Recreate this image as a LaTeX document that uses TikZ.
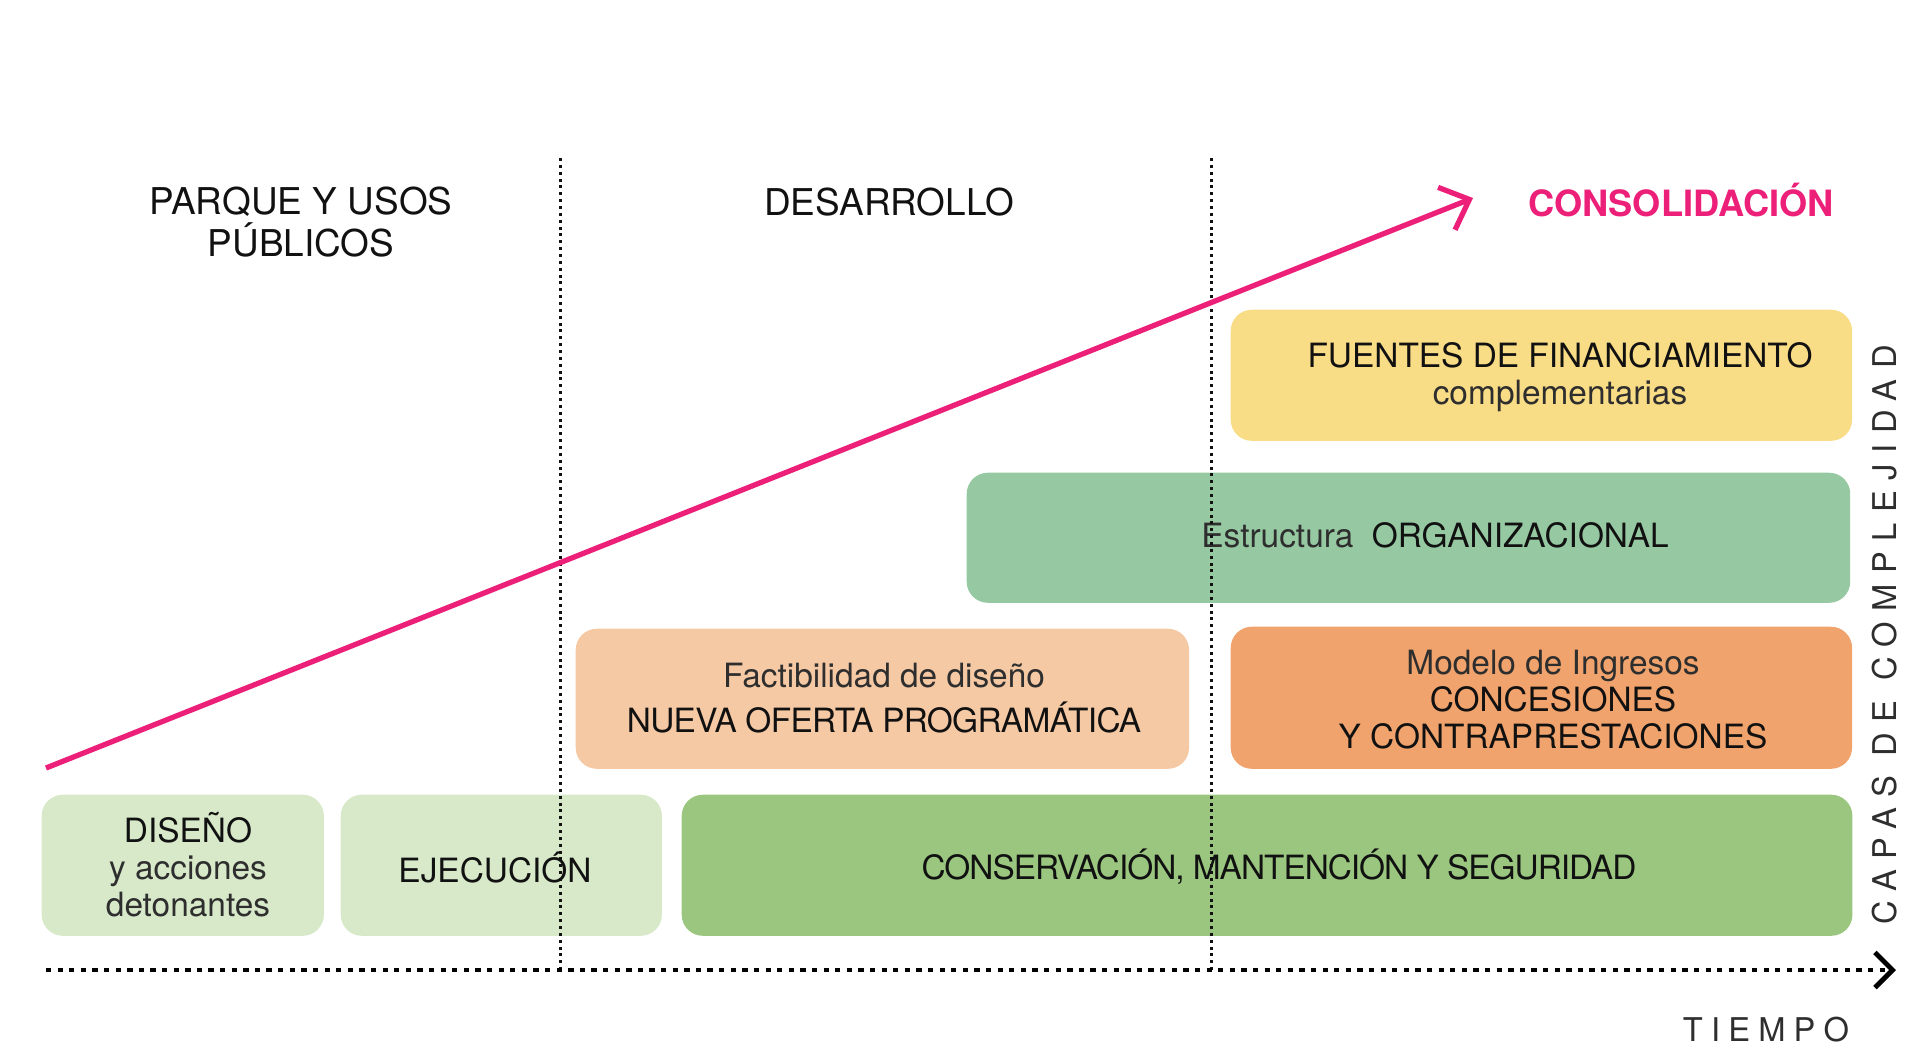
\documentclass[tikz,border=0pt]{standalone}
\usepackage{fontspec}
\setmainfont{TeX Gyre Heros}
\newfontfamily\espaciada[LetterSpace=25]{TeX Gyre Heros}
\newfontfamily\masespaciada[LetterSpace=32]{TeX Gyre Heros}
\newfontfamily\apretada[LetterSpace=-3]{TeX Gyre Heros}
\newfontfamily\pocoapretada[LetterSpace=-2]{TeX Gyre Heros}
\usetikzlibrary{arrows.meta,
                positioning}
\definecolor{rosa}{HTML}{EC1F79}
\definecolor{amarillo}{HTML}{F9DC86}
\definecolor{verdeagua}{HTML}{96C8A2}
\definecolor{durazno}{HTML}{F6C9A5}
\definecolor{naranjo}{HTML}{F0A36C}
\definecolor{verdeclaro}{HTML}{D7E9C9}
\definecolor{verde}{HTML}{9AC67F}
\definecolor{tinta}{HTML}{111111}
\definecolor{gris}{HTML}{2E2E2E}

\begin{document}
\begin{tikzpicture}[x=0.01cm,y=-0.01cm,
                    caja/.style={anchor=north west, rounded corners=6pt, inner sep=0pt},
                    texto/.style={align=center, text=tinta, font=\fontsize{9.5}{10.5}\selectfont},
                    etapa/.style={align=center, text=tinta, font=\fontsize{10.5}{12}\selectfont},
                    eje/.style={text=gris, font=\fontsize{9.3}{11}\selectfont\espaciada},
                    limite/.style={line width=.85pt, dash pattern=on .85pt off 1.1pt, tinta},
                    tiempo/.style={-{Straight Barb[length=5pt,width=10pt]}, line width=1.4pt,
                                   dash pattern=on 1.5pt off 1.8pt, black},
                    avance/.style={-{Straight Barb[length=7pt,width=13pt]}, line width=1.5pt, rosa}
                    ]
    \useasboundingbox (0,0) rectangle (1906,1056);

    % capas
    \node[caja, fill=amarillo,   minimum width=6.21cm,  minimum height=1.31cm] (fuentes) at (1230,309) {};
    \node[caja, fill=verdeagua,  minimum width=8.83cm,  minimum height=1.30cm] (organizacion) at (966,472) {};
    \node[caja, fill=durazno,    minimum width=6.13cm,  minimum height=1.40cm] (factibilidad) at (575,628) {};
    \node[caja, fill=naranjo,    minimum width=6.21cm,  minimum height=1.42cm] (ingresos) at (1230,626) {};
    \node[caja, fill=verdeclaro, minimum width=2.82cm,  minimum height=1.41cm] (diseno) at (41,794) {};
    \node[caja, fill=verdeclaro, minimum width=3.21cm,  minimum height=1.41cm] (ejecucion) at (340,794) {};
    \node[caja, fill=verde,      minimum width=11.70cm, minimum height=1.41cm] (conservacion) at (681,794) {};

    % textos de las capas
    \node[texto] (fuentesT) at (1560,377) {FUENTES DE FINANCIAMIENTO\\ \textcolor{gris}{complementarias}};
    \node[texto] (organizacionT) at (1435,535) {\textcolor{gris}{Estructura}\ \ ORGANIZACIONAL};
    \node[texto, font=\fontsize{9.5}{12.8}\selectfont] (factibilidadT) at (884,698)
        {\textcolor{gris}{Factibilidad de diseño}\\ {\pocoapretada NUEVA OFERTA PROGRAMÁTICA}};
    \node[texto] (ingresosT) at (1553,700) {\textcolor{gris}{Modelo de Ingresos}\\ CONCESIONES\\ Y CONTRAPRESTACIONES};
    \node[texto] (disenoT) at (188,865) {DISEÑO\\ \textcolor{gris}{y acciones}\\ \textcolor{gris}{detonantes}};
    \node[texto] (ejecucionT) at (495,867) {EJECUCIÓN};
    \node[texto] (conservacionT) at (1279,867) {\apretada CONSERVACIÓN, MANTENCIÓN Y SEGURIDAD};

    % etapas
    \node[etapa] (parque) at (301,222) {PARQUE Y USOS\\ PÚBLICOS};
    \node[etapa] (desarrollo) at (889,202) {DESARROLLO};
    \node[etapa, text=rosa, font=\fontsize{10.3}{12}\selectfont\bfseries] (consolidacion) at (1681,200) {CONSOLIDACIÓN};

    % limites entre etapas
    \coordinate (l1a) at (560,158);
    \coordinate (l1b) at (560,970);
    \coordinate (l2a) at (1211,158);
    \coordinate (l2b) at (1211,970);
    \draw[limite] (l1a) -- (l1b);
    \draw[limite] (l2a) -- (l2b);

    % ejes
    \coordinate (t0) at (46,970);
    \coordinate (t1) at (1896,970);
    \draw[tiempo] (t0) -- (t1);
    \node[eje] (tiempoT) at (1766,1030) {TIEMPO};
    \node[eje, font=\fontsize{9.3}{11}\selectfont\masespaciada, rotate=90] (capas) at (1885,635) {CAPAS DE COMPLEJIDAD};

    \coordinate (a0) at (46,768);
    \coordinate (a1) at (1473,198);
    \draw[avance] (a0) -- (a1);
\end{tikzpicture}
\end{document}
